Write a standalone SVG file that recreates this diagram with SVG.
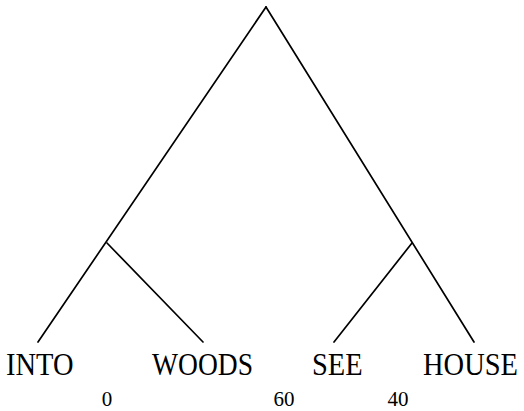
<svg xmlns="http://www.w3.org/2000/svg" width="524" height="411" viewBox="0 0 524 411">
<style>
.e{stroke:#000;stroke-width:1.7;fill:none;stroke-linecap:round}
.w{font-family:"Liberation Serif","Times New Roman",serif;font-size:28.5px;fill:#000}
.n{font-family:"Liberation Serif","Times New Roman",serif;font-size:21px;fill:#000;text-anchor:middle}
</style>
<rect width="524" height="411" fill="#fff"/>
<g id="connectors">
<line class="e" x1="266" y1="7" x2="38" y2="342"/>
<line class="e" x1="266" y1="7" x2="474" y2="342"/>
<line class="e" x1="107" y1="243" x2="203" y2="342"/>
<line class="e" x1="412" y1="243" x2="334" y2="342"/>
</g>
<g id="node-into" transform="translate(6,375) scale(1,1.12)"><text class="w" x="0" y="0">INTO</text></g>
<g id="node-woods" transform="translate(152,375) scale(1,1.12)"><text class="w" x="0" y="0" textLength="101" lengthAdjust="spacingAndGlyphs">WOODS</text></g>
<g id="node-see" transform="translate(312,375) scale(1,1.12)"><text class="w" x="0" y="0">SEE</text></g>
<g id="node-house" transform="translate(423,375) scale(1,1.12)"><text class="w" x="0" y="0">HOUSE</text></g>
<g id="labels">
<text class="n" x="107" y="406">0</text>
<text class="n" x="284" y="406">60</text>
<text class="n" x="398" y="406">40</text>
</g>
</svg>
